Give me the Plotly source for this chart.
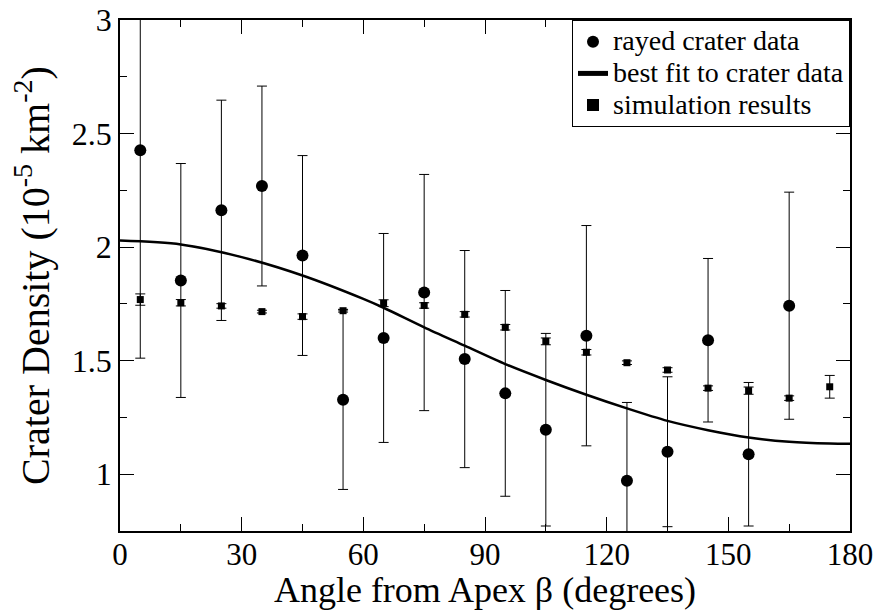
import plotly.graph_objects as go

# Rayed crater data
ray_x = [5, 15, 25, 35, 45, 55, 65, 75, 85, 95, 105, 115, 125, 135, 145, 155, 165]
ray_y = [2.426, 1.853, 2.162, 2.269, 1.963, 1.328, 1.600, 1.800, 1.507, 1.356,
         1.196, 1.610, 0.971, 1.099, 1.590, 1.088, 1.742]
ray_err = [0.915, 0.515, 0.485, 0.440, 0.440, 0.395, 0.460, 0.520, 0.478, 0.453,
           0.424, 0.485, 0.345, 0.330, 0.360, 0.316, 0.500]

# Best fit curve
fit_x = [0, 15, 30, 45, 60, 65, 75, 85, 95, 105, 115, 125, 135, 145, 155, 165, 175, 180]
fit_y = [2.029, 2.012, 1.956, 1.875, 1.772, 1.733, 1.647, 1.566, 1.485, 1.415,
         1.350, 1.290, 1.235, 1.194, 1.162, 1.143, 1.135, 1.134]

# Simulation results
sim_x = [5, 15, 25, 35, 45, 55, 65, 75, 85, 95, 105, 115, 125, 135, 145, 155, 165, 175]
sim_y = [1.769, 1.755, 1.741, 1.716, 1.694, 1.720, 1.753, 1.743, 1.704, 1.647,
         1.585, 1.537, 1.491, 1.459, 1.379, 1.368, 1.335, 1.385]
sim_err = [0.025, 0.014, 0.010, 0.006, 0.012, 0.006, 0.015, 0.012, 0.012, 0.012,
           0.015, 0.012, 0.008, 0.010, 0.010, 0.016, 0.010, 0.050]

x_ticks = [0, 30, 60, 90, 120, 150, 180]
y_ticks = [1, 1.5, 2, 2.5, 3]
y_tick_text = ["1", "1.5", "2", "2.5", "3"]

series_names = ["rayed crater data", "best fit to crater data", "simulation results"]

FONT = "Liberation Serif, Times New Roman, serif"


def legend_label(s):
    return '<span style="font-size:28px">' + s + '</span>'


fig = go.Figure()
fig.add_trace(go.Scatter(
    x=ray_x, y=ray_y, mode="markers", name=legend_label(series_names[0]),
    marker=dict(symbol="circle", size=12, color="black"),
    error_y=dict(type="data", array=ray_err, visible=True, color="black",
                 thickness=1, width=5),
))
fig.add_trace(go.Scatter(
    x=fit_x, y=fit_y, mode="lines", name=legend_label(series_names[1]),
    line=dict(color="black", width=2.5, shape="spline", smoothing=0.8),
))
fig.add_trace(go.Scatter(
    x=sim_x, y=sim_y, mode="markers", name=legend_label(series_names[2]),
    marker=dict(symbol="square", size=7, color="black"),
    error_y=dict(type="data", array=sim_err, visible=True, color="black",
                 thickness=1, width=5),
))

axis_common = dict(
    showline=True, linecolor="black", linewidth=1.5, mirror="allticks",
    ticks="inside", ticklen=14, tickwidth=1, tickcolor="black",
    showgrid=False, zeroline=False, automargin=False,
)

fig.update_xaxes(
    range=[0, 180], tickvals=x_ticks,
    tickfont=dict(family=FONT, size=31, color="black"),
    ticklabelstandoff=-5,
    minor=dict(ticks="inside", ticklen=7, dtick=15, tick0=0, tickcolor="black", showgrid=False),
    title=dict(text="Angle from Apex β (degrees)", font=dict(family=FONT, size=36, color="black"),
               standoff=2),
    **axis_common,
)
fig.update_yaxes(
    range=[0.75, 3], tickvals=y_ticks, ticktext=y_tick_text,
    tickfont=dict(family=FONT, size=32, color="black"),
    minor=dict(ticks="inside", ticklen=7, dtick=0.25, tick0=0, tickcolor="black", showgrid=False),
    title=dict(text="Crater Density (10<sup>-5</sup> km<sup>-2</sup>)",
               font=dict(family=FONT, size=40, color="black"), standoff=10),
    **axis_common,
)

fig.update_layout(
    width=880, height=610,
    margin=dict(l=120, r=30, t=20, b=79, autoexpand=False),
    paper_bgcolor="white", plot_bgcolor="white",
    font=dict(family=FONT, color="black"),
    showlegend=True,
    legend=dict(x=1, y=1, xanchor="right", yanchor="top",
                bgcolor="white", bordercolor="black", borderwidth=1,
                font=dict(family=FONT, size=22, color="black"),
                tracegroupgap=0, itemsizing="constant"),
)

fig.write_html("out.html")
